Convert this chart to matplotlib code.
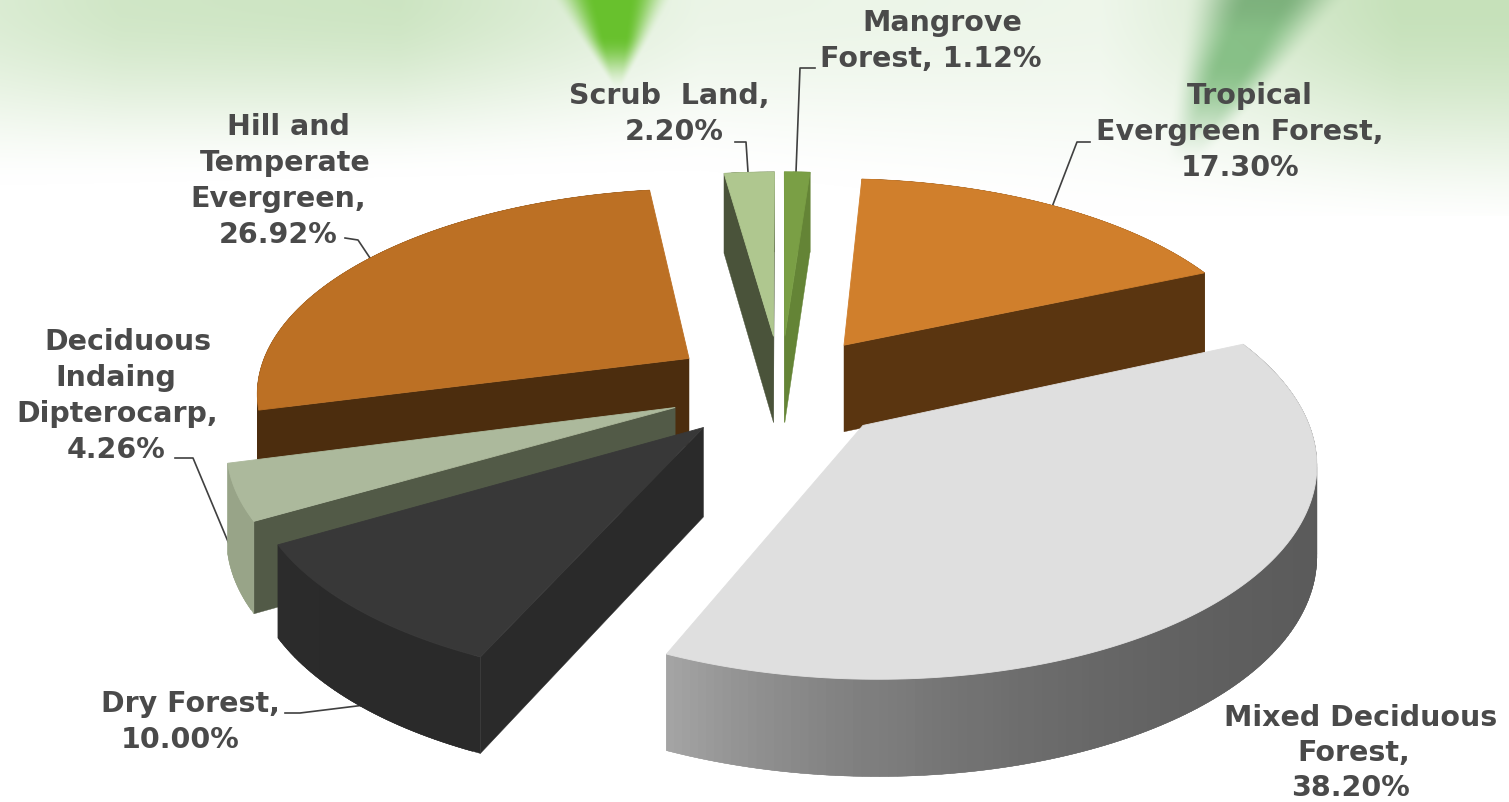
"""Forest type shares, exploded 3D-look pie drawn from the percentages."""
import matplotlib

matplotlib.use("Agg")
import matplotlib.pyplot as plt
import numpy as np
from matplotlib.colors import to_rgb
from matplotlib.patches import Polygon

W, H = 1509, 802

# clockwise from 12 o'clock
categories = ["Mangrove", "Tropical", "Mixed", "Dry", "Deciduous", "Hill", "Scrub"]
shares = [1.12, 17.30, 38.20, 10.00, 4.26, 26.92, 2.20]

top_colors = ["#7a9f45", "#d07f2c", "#dfdfdf", "#383838", "#acb99c", "#bc7024", "#afc78f"]
side_colors = ["#648436", "#5a3510", "#5a5a5a", "#2a2a2a", "#525a47", "#4c2d0e", "#4a533a"]
# outer wall colours, start to end of the arc
arc_colors = [
    ("#648436", "#648436"),
    ("#5a3510", "#5a3510"),
    ("#5a5a5a", "#a8a8a8"),
    ("#2a2a2a", "#2d2d2d"),
    ("#98a488", "#98a488"),
    ("#4c2d0e", "#4c2d0e"),
    ("#4a533a", "#4a533a"),
]

label_lines = [
    ("Mangrove", 942, 23), ("Forest, 1.12%", 931, 59),
    ("Tropical", 1250, 96), ("Evergreen Forest,", 1240, 132), ("17.30%", 1240, 168),
    ("Mixed Deciduous", 1361, 718), ("Forest,", 1354, 753), ("38.20%", 1350, 788),
    ("Dry Forest,", 190, 704), ("10.00%", 180, 740),
    ("Deciduous", 128, 342), ("Indaing", 116, 378), ("Dipterocarp,", 117, 414), ("4.26%", 116, 450),
    ("Hill and", 288, 127), ("Temperate", 285, 163), ("Evergreen,", 278, 199), ("26.92%", 278, 235),
    ("Scrub  Land,", 669, 96), ("2.20%", 674, 132),
]

leaders = [
    [(815, 68), (800, 68), (796, 172)],
    [(1090, 142), (1077, 142), (1052, 207)],
    [(285, 713), (300, 713), (365, 705)],
    [(175, 458), (193, 458), (247, 587)],
    [(345, 238), (358, 240), (370, 258)],
    [(735, 142), (746, 142), (748, 172)],
]

# projection of the tilted pie
CX, CY = 781, 387
RX, RY = 434, 203
PERSP = 0.15
DEPTH = 88
DEPTH_PERSP = 0.08
EXPLODE = 0.26
DRAW_ORDER = [5, 1, 6, 0, 4, 3, 2]


def project(x, y, lower=False):
    s = 1 / (1 + PERSP * y)
    px = CX + x * RX * s
    py = CY - y * RY * s
    if lower:
        py = py + DEPTH / (1 + DEPTH_PERSP * y)
    return px, py


def smooth(v):
    v = np.clip(v, 0, 1)
    return v * v * (3 - 2 * v)


def background():
    yy, xx = np.mgrid[0:H, 0:W]
    across = np.interp(xx, [0, 120, 400, 700, 1100, 1400, W], [0.55, 0.7, 0.75, 0.3, 0.25, 0.85, 0.85])
    reach = np.interp(xx, [0, 700, 1100, W], [185, 170, 215, 230])
    tint = across * smooth(1 - yy / reach) ** 0.8
    tint[yy > 215] = 0
    img = np.ones((H, W, 3))
    pale = np.array(to_rgb("#bcdcae"))
    img = img * (1 - tint[..., None]) + pale * tint[..., None]
    # left leaf: narrows to a tip
    half = np.maximum(60 * (1 - yy / 95), 1)
    a = smooth((1 - np.abs(xx - (612 + yy * 0.06)) / half) * 1.4) * smooth((90 - yy) / 55) * 0.95
    img = img * (1 - a[..., None]) + np.array(to_rgb("#62bf24")) * a[..., None]
    # right leaf: wider, blurred, darker at the top
    half = np.maximum(82 - 0.38 * yy, 1)
    a = smooth((1 - np.abs(xx - (1265 - yy * 0.5)) / half) * 1.25) * smooth((170 - yy) / 110) * 0.92
    col = np.array(to_rgb("#80bc80")) * (1 - smooth(1 - yy / 40)[..., None] * 0.08)
    img = img * (1 - a[..., None]) + col * a[..., None]
    return img


fig = plt.figure(figsize=(W / 100, H / 100), dpi=100)
ax = fig.add_axes([0, 0, 1, 1])
ax.set_xlim(0, W)
ax.set_ylim(H, 0)
ax.axis("off")
ax.imshow(background(), extent=(0, W, H, 0), aspect="auto", zorder=0, interpolation="bilinear")

edges = np.concatenate([[0], np.cumsum(shares)]) / 100 * 2 * np.pi


def wall_visible(apex, end, inner):
    # a radial wall shows when the slice lies above its top edge on screen
    ex, ey = end[0] - apex[0], end[1] - apex[1]
    ix, iy = inner[0] - apex[0], inner[1] - apex[1]
    return (ex * iy - ey * ix) * ex < 0


def draw_slice(i, z):
    a0, a1 = edges[i], edges[i + 1]
    mid = (a0 + a1) / 2
    ox, oy = EXPLODE * np.sin(mid), EXPLODE * np.cos(mid)
    th = np.linspace(a0, a1, max(int((a1 - a0) * 60), 3))
    wx, wy = ox + np.sin(th), oy + np.cos(th)
    apex = project(ox, oy)
    inner = project(ox + np.sin(mid), oy + np.cos(mid))

    quads = []
    for ex, ey in [(wx[0], wy[0]), (wx[-1], wy[-1])]:
        if not wall_visible(apex, project(ex, ey), inner):
            continue
        q = [apex, project(ex, ey), project(ex, ey, True), project(ox, oy, True)]
        quads.append(((oy + ey) / 2, q, side_colors[i]))
    c0, c1 = np.array(to_rgb(arc_colors[i][0])), np.array(to_rgb(arc_colors[i][1]))
    for k in range(len(th) - 1):
        # each strip reaches over the next one so no seams show
        e = min(k + 2, len(th) - 1)
        q = [project(wx[k], wy[k]), project(wx[e], wy[e]),
             project(wx[e], wy[e], True), project(wx[k], wy[k], True)]
        t = (k / (len(th) - 1)) ** 4
        quads.append(((wy[k] + wy[k + 1]) / 2, q, tuple(c0 + (c1 - c0) * t)))
    for _, q, col in sorted(quads, key=lambda item: -item[0]):
        ax.add_patch(Polygon(q, closed=True, fc=col, ec=col, lw=0.3, zorder=z))

    top = [apex] + [project(a, b) for a, b in zip(wx, wy)]
    ax.add_patch(Polygon(top, closed=True, fc=top_colors[i], ec=top_colors[i], lw=0.6, zorder=z + 0.5))


for n, idx in enumerate(DRAW_ORDER):
    draw_slice(idx, 2 + n)

for pts in leaders:
    xs, ys = zip(*pts)
    ax.plot(xs, ys, color="#404040", lw=1.2, zorder=1.5)

for txt, x, y in label_lines:
    ax.text(x, y, txt, ha="center", va="center", fontsize=20.5, fontweight="bold",
            family="DejaVu Sans", color="#4a4a4a", zorder=20)

fig.savefig("out.png", dpi=100)
